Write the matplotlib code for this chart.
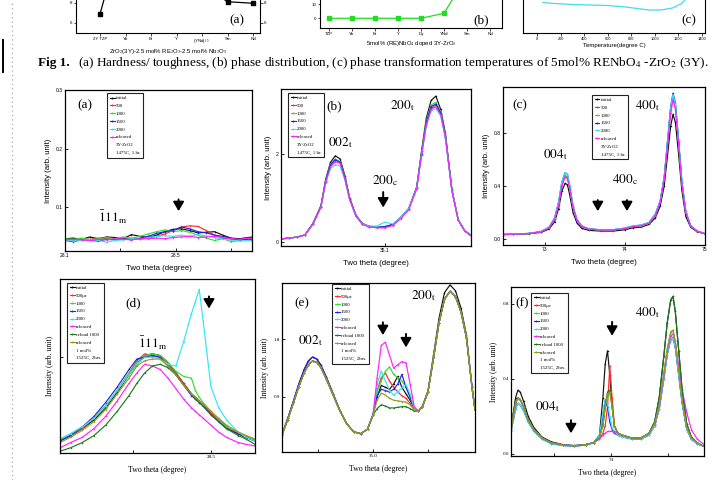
#!/usr/bin/env python3
"""Recreate a scanned page: strip of Fig 1 (hardness / phases / temperature) and six XRD panels."""
import matplotlib
matplotlib.use("Agg")
import matplotlib.pyplot as plt
from matplotlib.lines import Line2D

W, H = 712, 480
SANS = "Liberation Sans"
SERIF = "Liberation Serif"
plt.rcParams["font.family"] = SANS
plt.rcParams["mathtext.fontset"] = "stix"

# ---------------- top strip (Fig 1) ----------------
TOP_A_CATS = ["2Y TZP", "Yb", "Er", "Y", "(YNd)$_{1.5}$", "Sm", "Nd"]
TOP_A_VALUES = [6.9, 16.0, 14.0, 13.0, 9.8, 8.13, 7.97]
TOP_B_CATS = ["TZP", "Yb", "Er", "Y", "Dy", "YNd", "Sm", "Nd"]
TOP_B_VALUES = [0, 0, 0, 0, 0, 3.5, 30, 55]
TOP_C_TEMP = [50, 150, 300, 450, 600, 750, 850, 950, 1050, 1150, 1220, 1280]
TOP_C_VALUES = [30.5, 29.5, 28.5, 28.0, 27.5, 26.0, 24.5, 23.0, 23.0, 25.0, 29.0, 36.0]
TOP_C_TICKS = [0, 200, 400, 600, 800, 1000, 1200, 1400]

# ---------------- legends ----------------
LABELS_3Y = ["initial", "500", "1000", "1500", "2000", "released"]
NOTES_3Y = ["3Y-ZrO2", "1475C, 1 hr."]
COLORS_3Y = ["#111111", "#ff2a2a", "#33dd33", "#2222ee", "#33e6f2", "#ff22ff"]
LABELS_1M = ["initial", "500\u03bc\u03b5", "1000", "1500", "2000", "released", "reload 1000", "released"]
NOTES_1M = ["1 mol%", "1525C, 2hrs."]
COLORS_1M = COLORS_3Y + ["#1f7a1f", "#9a9a22"]

# ---------------- (a) -111m, 3Y ----------------
A_X = [28.10, 28.13, 28.16, 28.19, 28.22, 28.25, 28.28, 28.31, 28.34, 28.37, 28.40, 28.43,
       28.46, 28.49, 28.52, 28.55, 28.58, 28.61, 28.64, 28.67, 28.70, 28.73, 28.76, 28.78]
A_INITIAL = [0.046, 0.047, 0.045, 0.049, 0.046, 0.049, 0.048, 0.046, 0.053, 0.050, 0.048, 0.052,
             0.058, 0.062, 0.063, 0.060, 0.056, 0.057, 0.058, 0.052, 0.047, 0.046, 0.048, 0.049]
A_500 = [0.045, 0.044, 0.046, 0.045, 0.047, 0.046, 0.045, 0.047, 0.046, 0.045, 0.047, 0.050,
         0.054, 0.060, 0.066, 0.068, 0.067, 0.060, 0.052, 0.047, 0.045, 0.044, 0.046, 0.045]
A_1000 = [0.046, 0.045, 0.047, 0.044, 0.046, 0.048, 0.046, 0.049, 0.047, 0.050, 0.054, 0.058,
          0.061, 0.058, 0.060, 0.057, 0.052, 0.047, 0.043, 0.046, 0.041, 0.043, 0.045, 0.044]
A_1500 = [0.043, 0.041, 0.044, 0.043, 0.042, 0.045, 0.044, 0.046, 0.044, 0.047, 0.050, 0.055,
          0.058, 0.060, 0.066, 0.063, 0.058, 0.056, 0.052, 0.050, 0.046, 0.044, 0.045, 0.043]
A_2000 = [0.044, 0.042, 0.043, 0.045, 0.043, 0.040, 0.043, 0.044, 0.046, 0.045, 0.048, 0.050,
          0.051, 0.050, 0.052, 0.050, 0.053, 0.051, 0.048, 0.045, 0.044, 0.042, 0.043, 0.042]
A_REL = [0.044, 0.045, 0.044, 0.043, 0.045, 0.044, 0.046, 0.045, 0.044, 0.046, 0.046, 0.047,
         0.046, 0.048, 0.049, 0.050, 0.048, 0.049, 0.050, 0.048, 0.046, 0.045, 0.047, 0.046]

# ---------------- (b) 002t / 200c / 200t, 3Y ----------------
B_X = [34.45, 34.50, 34.55, 34.60, 34.65, 34.70, 34.73, 34.76, 34.79, 34.82, 34.85, 34.88, 34.92,
       34.96, 35.00, 35.05, 35.10, 35.15, 35.20, 35.25, 35.30, 35.33, 35.36, 35.39, 35.42, 35.45,
       35.48, 35.52, 35.56, 35.60, 35.64]
B_INITIAL = [0.07, 0.09, 0.11, 0.16, 0.42, 0.82, 1.42, 1.80, 1.95, 1.88, 1.50, 1.00, 0.60, 0.42, 0.36,
             0.33, 0.34, 0.39, 0.55, 0.75, 1.25, 2.05, 2.80, 3.20, 3.30, 3.00, 2.45, 1.20, 0.50, 0.26, 0.15]
B_500 = [0.07, 0.09, 0.11, 0.16, 0.41, 0.80, 1.38, 1.74, 1.86, 1.80, 1.45, 0.97, 0.59, 0.41, 0.35,
         0.33, 0.34, 0.39, 0.55, 0.75, 1.22, 1.98, 2.68, 3.02, 3.10, 2.90, 2.38, 1.18, 0.50, 0.26, 0.15]
B_1000 = [0.07, 0.09, 0.11, 0.16, 0.41, 0.80, 1.40, 1.76, 1.88, 1.82, 1.46, 0.98, 0.59, 0.41, 0.35,
          0.33, 0.34, 0.39, 0.55, 0.75, 1.24, 2.02, 2.74, 3.10, 3.16, 2.95, 2.40, 1.18, 0.50, 0.26, 0.15]
B_1500 = [0.07, 0.09, 0.11, 0.16, 0.41, 0.80, 1.39, 1.75, 1.86, 1.80, 1.45, 0.97, 0.59, 0.41, 0.35,
          0.33, 0.35, 0.40, 0.56, 0.76, 1.23, 2.00, 2.70, 3.06, 3.12, 2.92, 2.38, 1.18, 0.50, 0.26, 0.15]
B_2000 = [0.07, 0.09, 0.11, 0.16, 0.40, 0.78, 1.34, 1.66, 1.75, 1.72, 1.40, 0.95, 0.58, 0.41, 0.36,
          0.36, 0.45, 0.41, 0.56, 0.76, 1.22, 1.96, 2.62, 2.96, 3.02, 2.85, 2.35, 1.17, 0.50, 0.26, 0.15]
B_REL = [0.07, 0.09, 0.11, 0.16, 0.40, 0.79, 1.36, 1.70, 1.82, 1.78, 1.43, 0.96, 0.58, 0.40, 0.34,
         0.32, 0.32, 0.37, 0.53, 0.73, 1.20, 1.96, 2.64, 3.00, 3.06, 2.88, 2.36, 1.16, 0.49, 0.25, 0.14]

# ---------------- (c) 004t / 400c / 400t, 3Y ----------------
C_X = [72.48, 72.60, 72.80, 72.95, 73.05, 73.12, 73.17, 73.21, 73.25, 73.28, 73.31, 73.35, 73.40,
       73.46, 73.55, 73.70, 73.85, 74.00, 74.10, 74.20, 74.30, 74.38, 74.44, 74.49, 74.53, 74.57,
       74.60, 74.63, 74.67, 74.71, 74.76, 74.82, 74.90, 75.00]
C_INITIAL = [.033, .035, .040, .050, .075, .13, .23, .36, .42, .41, .33, .20, .12, .08, .065, .06, .06,
             .07, .085, .09, .11, .16, .25, .40, .62, .85, .94, .88, .64, .37, .17, .09, .055, .04]
C_500 = [.035, .037, .042, .055, .085, .15, .26, .40, .47, .46, .38, .24, .14, .095, .075, .068, .068,
         .08, .095, .10, .12, .18, .28, .46, .71, .97, 1.07, 1.00, .73, .43, .20, .10, .06, .04]
C_1000 = [.035, .037, .042, .055, .085, .15, .27, .41, .48, .47, .38, .24, .14, .095, .075, .068, .068,
          .08, .095, .10, .12, .18, .28, .46, .71, .97, 1.07, 1.00, .73, .43, .20, .10, .06, .04]
C_1500 = [.035, .037, .042, .056, .088, .16, .28, .43, .50, .49, .40, .25, .145, .097, .077, .07, .07,
          .082, .098, .105, .125, .19, .29, .47, .73, 1.00, 1.10, 1.03, .75, .44, .21, .10, .06, .04]
C_2000 = [.036, .038, .043, .057, .09, .16, .28, .43, .50, .49, .40, .25, .145, .097, .077, .07, .07,
          .085, .10, .105, .125, .19, .29, .47, .73, .99, 1.09, 1.02, .75, .44, .21, .10, .06, .04]
C_REL = [.035, .037, .042, .055, .085, .15, .26, .40, .47, .46, .38, .24, .14, .095, .075, .068, .068,
         .08, .095, .10, .12, .18, .28, .45, .70, .95, 1.05, .98, .72, .42, .20, .10, .06, .04]

# ---------------- (d) -111m, 1 mol% ----------------
D_X = [28.113, 28.14, 28.17, 28.20, 28.23, 28.26, 28.29, 28.31, 28.33, 28.35, 28.37, 28.39,
       28.41, 28.43, 28.45, 28.46, 28.47, 28.48, 28.50, 28.52, 28.54, 28.57, 28.59, 28.613]
D_INITIAL = [0.07, 0.10, 0.14, 0.19, 0.26, 0.35, 0.45, 0.51, 0.56, 0.57, 0.56, 0.52,
             0.46, 0.40, 0.34, 0.32, 0.30, 0.28, 0.23, 0.19, 0.15, 0.11, 0.09, 0.07]
D_500 = [0.07, 0.10, 0.14, 0.20, 0.27, 0.36, 0.46, 0.53, 0.57, 0.56, 0.55, 0.51,
         0.46, 0.40, 0.34, 0.32, 0.30, 0.28, 0.23, 0.19, 0.15, 0.11, 0.09, 0.07]
D_1000 = [0.08, 0.11, 0.15, 0.20, 0.27, 0.36, 0.46, 0.52, 0.56, 0.57, 0.56, 0.52,
          0.47, 0.44, 0.43, 0.36, 0.32, 0.29, 0.24, 0.19, 0.15, 0.12, 0.10, 0.08]
D_1500 = [0.07, 0.10, 0.15, 0.21, 0.29, 0.38, 0.48, 0.54, 0.55, 0.56, 0.55, 0.50,
          0.45, 0.39, 0.33, 0.31, 0.29, 0.27, 0.22, 0.18, 0.14, 0.11, 0.09, 0.07]
D_2000 = [0.08, 0.11, 0.15, 0.20, 0.27, 0.36, 0.45, 0.51, 0.55, 0.55, 0.54, 0.51,
          0.50, 0.64, 0.80, 0.87, 0.94, 0.76, 0.38, 0.26, 0.19, 0.12, 0.09, 0.07]
D_REL = [0.03, 0.06, 0.09, 0.14, 0.21, 0.30, 0.40, 0.46, 0.51, 0.50, 0.48, 0.43,
         0.37, 0.31, 0.26, 0.24, 0.22, 0.20, 0.16, 0.12, 0.09, 0.06, 0.05, 0.04]
D_RELOAD = [0.01, 0.03, 0.06, 0.10, 0.16, 0.24, 0.33, 0.40, 0.46, 0.50, 0.51, 0.49,
            0.45, 0.39, 0.34, 0.31, 0.29, 0.27, 0.22, 0.18, 0.14, 0.10, 0.08, 0.05]
D_REL2 = [0.06, 0.09, 0.13, 0.18, 0.25, 0.34, 0.43, 0.50, 0.53, 0.54, 0.54, 0.50,
          0.45, 0.39, 0.34, 0.32, 0.30, 0.28, 0.24, 0.20, 0.16, 0.12, 0.10, 0.08]

# ---------------- (e) 002t / 200t, 1 mol% ----------------
E_X = [34.669, 34.69, 34.71, 34.73, 34.75, 34.765, 34.78, 34.795, 34.81, 34.83, 34.855, 34.88,
       34.905, 34.93, 34.955, 34.98, 35.0,
       35.015, 35.03, 35.045, 35.06, 35.075, 35.09, 35.105, 35.12, 35.135, 35.15,
       35.165, 35.18, 35.2, 35.22, 35.24, 35.26, 35.28, 35.3, 35.32, 35.34, 35.36, 35.371]
E_LEFT = [0.31, 0.55, 0.80, 1.06, 1.28, 1.40, 1.46, 1.44, 1.36, 1.18, 0.93, 0.68, 0.48, 0.36, 0.33, 0.40, 0.62]
E_LEFT_HI = [0.32, 0.57, 0.83, 1.10, 1.33, 1.46, 1.52, 1.49, 1.40, 1.21, 0.95, 0.69, 0.48, 0.36, 0.33, 0.40, 0.63]
E_RIGHT = [0.68, 0.75, 0.98, 1.50, 2.05, 2.42, 2.54, 2.46, 2.22, 1.82, 1.05, 0.70]
E_RIGHT_HI = [0.68, 0.76, 1.00, 1.55, 2.12, 2.52, 2.64, 2.55, 2.28, 1.86, 1.07, 0.71]
E_MID_INITIAL = [0.90, 1.08, 1.05, 1.02, 1.10, 1.22, 1.05, 0.95, 0.85, 0.72]
E_MID_500 = [1.00, 1.20, 1.27, 1.15, 1.05, 0.98, 0.92, 0.88, 0.80, 0.70]
E_MID_1000 = [0.98, 1.15, 1.30, 1.37, 1.25, 1.20, 1.15, 1.05, 0.90, 0.72]
E_MID_1500 = [0.92, 1.02, 1.00, 0.98, 1.02, 1.10, 1.25, 1.05, 0.90, 0.72]
E_MID_2000 = [1.10, 1.30, 1.15, 1.00, 0.93, 0.98, 1.05, 1.09, 0.95, 0.72]
E_MID_REL = [1.20, 1.70, 1.75, 1.55, 1.35, 1.40, 1.45, 1.43, 1.10, 0.75]
E_MID_RELOAD = [0.72, 0.78, 0.76, 0.73, 0.73, 0.74, 0.75, 0.75, 0.72, 0.68]
E_MID_REL2 = [0.85, 0.96, 0.93, 0.88, 0.85, 0.84, 0.83, 0.82, 0.78, 0.70]

# ---------------- (f) 004t / 400t, 1 mol% ----------------
F_X = [73.13, 73.15, 73.17, 73.19, 73.21, 73.24, 73.28, 73.33, 73.40, 73.48, 73.58, 73.68, 73.78, 73.85,
       73.90, 73.93, 73.95, 73.97, 73.99, 74.01, 74.03, 74.06, 74.10,
       74.18, 74.26, 74.33, 74.38, 74.42, 74.46, 74.49, 74.52, 74.54, 74.56, 74.59, 74.62, 74.66,
       74.70, 74.75, 74.81]
F_LEFT_HI = [0.14, 0.22, 0.30, 0.34, 0.33, 0.28, 0.20, 0.14, 0.09, 0.065, 0.05, 0.045, 0.05, 0.06]
F_LEFT_MID = [0.13, 0.20, 0.27, 0.30, 0.29, 0.25, 0.18, 0.13, 0.085, 0.06, 0.048, 0.043, 0.05, 0.06]
F_LEFT_LO = [0.12, 0.18, 0.24, 0.27, 0.26, 0.23, 0.17, 0.12, 0.08, 0.055, 0.045, 0.04, 0.048, 0.058]
F_MID_INITIAL = [0.10, 0.30, 0.48, 0.55, 0.42, 0.25, 0.15, 0.11, 0.10]
F_MID_500 = [0.08, 0.11, 0.15, 0.25, 0.47, 0.30, 0.15, 0.11, 0.10]
F_MID_1000 = [0.09, 0.15, 0.24, 0.31, 0.33, 0.25, 0.15, 0.11, 0.10]
F_MID_1500 = [0.10, 0.20, 0.29, 0.25, 0.17, 0.13, 0.11, 0.10, 0.09]
F_MID_2000 = [0.10, 0.22, 0.29, 0.27, 0.20, 0.14, 0.12, 0.10, 0.09]
F_MID_REL = [0.08, 0.10, 0.11, 0.12, 0.12, 0.12, 0.12, 0.11, 0.10]
F_MID_RELOAD = [0.09, 0.16, 0.26, 0.33, 0.34, 0.26, 0.15, 0.11, 0.10]
F_MID_REL2 = [0.09, 0.15, 0.25, 0.32, 0.33, 0.25, 0.15, 0.11, 0.10]
F_RIGHT_HI = [0.085, 0.085, 0.11, 0.17, 0.30, 0.52, 0.70, 0.82, 0.84, 0.76, 0.55, 0.34, 0.16, 0.09, 0.06, 0.04]
F_RIGHT_MID = [0.085, 0.085, 0.11, 0.16, 0.26, 0.43, 0.56, 0.65, 0.66, 0.60, 0.44, 0.28, 0.14, 0.085, 0.06, 0.04]
F_RIGHT_LO = [0.08, 0.08, 0.10, 0.15, 0.24, 0.40, 0.53, 0.61, 0.62, 0.57, 0.42, 0.27, 0.13, 0.08, 0.055, 0.04]
F_RIGHT_REL = [0.085, 0.085, 0.11, 0.16, 0.25, 0.42, 0.55, 0.63, 0.64, 0.60, 0.47, 0.34, 0.22, 0.13, 0.08, 0.05]


def px_axes(fig, x0, y0, x1, y1):
    """Axes placed by pixel box (left, top, right, bottom) on the 712x480 page."""
    return fig.add_axes([x0 / W, 1 - y1 / H, (x1 - x0) / W, (y1 - y0) / H])


def add_legend(ax, labels, colors, notes, x0, top):
    handles = [Line2D([], [], color=c, lw=0.8, marker="o", ms=1.4, mew=0) for c in colors]
    handles += [Line2D([], [], color="none") for _ in notes]
    leg = ax.legend(handles, list(labels) + list(notes), loc="upper left", bbox_to_anchor=(x0, top),
                    prop={"family": SERIF, "size": 3.5}, frameon=True, fancybox=False,
                    edgecolor="#222222", framealpha=1, handlelength=1.0, handletextpad=0.25,
                    labelspacing=0.7, borderpad=0.55, borderaxespad=0)
    leg.get_frame().set_linewidth(0.8)


def arrow(ax, x, y_top, y_bot):
    ax.annotate("", xy=(x, y_bot), xytext=(x, y_top),
                arrowprops=dict(arrowstyle="-|>,head_width=0.32,head_length=0.55",
                                color="black", lw=1.4, shrinkA=0, shrinkB=0))


def label(ax, x, y, text, size=9.5):
    ax.text(x, y, text, ha="center", va="center", fontsize=size, family=SERIF)


def xrd_axes(fig, box, x, series, colors, xlim, ylim, serif):
    ax = px_axes(fig, *box)
    for ys, c in zip(series, colors):
        ax.plot(x, ys, color=c, lw=0.85, marker="o", ms=1.1, mew=0)
    ax.set_xlim(*xlim)
    ax.set_ylim(*ylim)
    fam = SERIF if serif else SANS
    ax.tick_params(direction="in", length=2.2, width=0.6, labelsize=3.6, pad=1.5)
    for t in ax.get_xticklabels() + ax.get_yticklabels():
        t.set_family(fam)
    ax.set_xlabel("Two theta (degree)", fontsize=5.6, family=fam, labelpad=5)
    ax.set_ylabel("Intensity (arb. unit)", fontsize=5.6, family=fam, labelpad=3)
    for sp in ax.spines.values():
        sp.set_linewidth(0.9)
    return ax


def top_strip(fig):
    # (a) hardness / toughness
    ax = px_axes(fig, 76, -40, 260, 33)
    ax.plot(range(len(TOP_A_CATS)), TOP_A_VALUES, color="black", lw=0.9, marker="s", ms=2.6)
    ax.set_xlim(-0.94, 6.27)
    ax.set_ylim(5.0, 12.3)
    ax.set_xticks(range(len(TOP_A_CATS)))
    ax.set_xticklabels(TOP_A_CATS, fontsize=2.8)
    ax.set_yticks([6, 8])
    ax.tick_params(labelsize=3.2, length=1.8, width=0.5, pad=1, right=True, labelright=True)
    ax.set_xlabel("ZrO$_2$(3Y)-2.5 mol% RE$_2$O$_3$-2.5 mol% Nb$_2$O$_5$", fontsize=4.3, labelpad=1.5)
    label(ax, 5.38, 6.3, "(a)", 9.5)

    # (b) phase distribution
    ax = px_axes(fig, 320, -40, 502, 28)
    ax.plot(range(len(TOP_B_CATS)), TOP_B_VALUES, color="#22dd22", lw=0.9, marker="s", ms=2.4)
    ax.set_xlim(-0.39, 7.52)
    ax.set_ylim(-6.8, 40.8)
    ax.set_xticks(range(len(TOP_B_CATS)))
    ax.set_xticklabels(TOP_B_CATS, fontsize=2.8)
    ax.set_yticks([0, 10])
    ax.tick_params(labelsize=3.2, length=1.8, width=0.5, pad=1)
    ax.set_xlabel("5mol% (RE)NbO$_4$ doped 3Y-ZrO$_2$", fontsize=4.3, labelpad=2.5)
    label(ax, 6.63, -1.2, "(b)", 9.5)

    # (c) transformation temperature
    ax = px_axes(fig, 523, -40, 705, 33)
    ax.plot(TOP_C_TEMP, TOP_C_VALUES, color="#40dcee", lw=0.9)
    ax.set_xlim(-119, 1425)
    ax.set_ylim(0, 73)
    ax.set_xticks(TOP_C_TICKS)
    ax.set_xticklabels([str(t) for t in TOP_C_TICKS], fontsize=2.8)
    ax.set_yticks([])
    ax.tick_params(length=1.8, width=0.5, pad=1)
    ax.set_xlabel("Temperature(degree C)", fontsize=4.3, labelpad=1.5)
    label(ax, 1290, 13, "(c)", 9.5)


def main():
    fig = plt.figure(figsize=(W / 100, H / 100), dpi=100)
    fig.patch.set_facecolor("white")

    # page margin marks
    fig.add_artist(Line2D([12 / W, 12 / W], [0, 1], color="#9a9a9a", lw=0.8, ls=(0, (1, 3))))
    fig.add_artist(Line2D([3 / W, 3 / W], [1 - 40 / H, 1 - 72 / H], color="black", lw=1.4))

    top_strip(fig)

    fig.text(38 / W, 1 - 63 / H, "Fig 1.", fontsize=9.5, family=SERIF, weight="bold", va="center")
    fig.text(78 / W, 1 - 63 / H,
             "(a) Hardness/ toughness, (b) phase distribution, (c) phase transformation "
             "temperatures of 5mol% RENbO$_4$ -ZrO$_2$ (3Y).",
             fontsize=9.5, family=SERIF, va="center")

    # (a)
    ax = xrd_axes(fig, (65, 90, 252, 251), A_X, [A_INITIAL, A_500, A_1000, A_1500, A_2000, A_REL],
                  COLORS_3Y, (28.1, 28.775), (0.025, 0.3), False)
    ax.set_xticks([28.1, 28.3, 28.5, 28.7])
    ax.set_xticklabels(["28.1", "", "28.5", ""])
    ax.set_yticks([0.1, 0.2, 0.3])
    add_legend(ax, LABELS_3Y, COLORS_3Y, NOTES_3Y, 0.225, 0.98)
    label(ax, 28.172, 0.274, "(a)")
    label(ax, 28.27, 0.083, r"$\bar{1}11_\mathrm{m}$")
    arrow(ax, 28.51, 0.113, 0.093)

    # (b)
    ax = xrd_axes(fig, (281, 89, 471, 246), B_X, [B_INITIAL, B_500, B_1000, B_1500, B_2000, B_REL],
                  COLORS_3Y, (34.45, 35.64), (-0.09, 3.46), False)
    ax.set_xticks([35.1])
    ax.set_xticklabels(["35.1"])
    ax.set_yticks([0, 2])
    add_legend(ax, LABELS_3Y, COLORS_3Y, NOTES_3Y, 0.037, 0.975)
    label(ax, 34.78, 3.08, "(b)")
    label(ax, 34.82, 2.25, r"$002_\mathrm{t}$")
    label(ax, 35.10, 1.39, r"$200_\mathrm{c}$")
    label(ax, 35.21, 3.08, r"$200_\mathrm{t}$")
    arrow(ax, 35.09, 1.13, 0.78)

    # (c)
    ax = xrd_axes(fig, (503, 87, 705, 245), C_X, [C_INITIAL, C_500, C_1000, C_1500, C_2000, C_REL],
                  COLORS_3Y, (72.475, 75.0), (-0.045, 1.147), False)
    ax.set_xticks([73, 74, 75])
    ax.set_yticks([0.0, 0.4, 0.8])
    ax.set_yticklabels(["0.0", "0.4", "0.8"])
    add_legend(ax, LABELS_3Y, COLORS_3Y, NOTES_3Y, 0.44, 0.95)
    label(ax, 72.69, 1.01, "(c)")
    label(ax, 73.125, 0.634, r"$004_\mathrm{t}$")
    label(ax, 74.0, 0.445, r"$400_\mathrm{c}$")
    label(ax, 74.275, 1.01, r"$400_\mathrm{t}$")
    arrow(ax, 73.66, 0.294, 0.21)
    arrow(ax, 74.025, 0.294, 0.21)

    # (d)
    ax = xrd_axes(fig, (60, 279, 255, 453), D_X,
                  [D_INITIAL, D_500, D_1000, D_1500, D_2000, D_REL, D_RELOAD, D_REL2],
                  COLORS_1M, (28.113, 28.613), (0.0, 1.0), True)
    ax.set_xticks([28.3, 28.5])
    ax.set_xticklabels(["", "28.5"])
    ax.set_yticks([0.55])
    ax.set_yticklabels([""])
    add_legend(ax, LABELS_1M, COLORS_1M, NOTES_1M, 0.036, 0.977)
    label(ax, 28.30, 0.862, "(d)")
    label(ax, 28.351, 0.632, r"$\bar{1}11_\mathrm{m}$")
    arrow(ax, 28.495, 0.90, 0.83)

    # (e)
    e_series = [E_LEFT_HI + E_MID_INITIAL + E_RIGHT_HI, E_LEFT + E_MID_500 + E_RIGHT,
                E_LEFT + E_MID_1000 + E_RIGHT, E_LEFT_HI + E_MID_1500 + E_RIGHT,
                E_LEFT + E_MID_2000 + E_RIGHT, E_LEFT + E_MID_REL + E_RIGHT,
                E_LEFT + E_MID_RELOAD + E_RIGHT, E_LEFT + E_MID_REL2 + E_RIGHT]
    ax = xrd_axes(fig, (282, 283, 475, 452), E_X, e_series, COLORS_1M,
                  (34.669, 35.371), (0.046, 2.67), True)
    ax.set_xticks([34.8, 35.0, 35.2])
    ax.set_xticklabels(["", "35.0", ""])
    ax.set_yticks([0.9, 1.8])
    add_legend(ax, LABELS_1M, COLORS_1M, NOTES_1M, 0.26, 0.995)
    label(ax, 34.742, 2.36, "(e)")
    label(ax, 34.771, 1.78, r"$002_\mathrm{t}$")
    label(ax, 35.182, 2.48, r"$200_\mathrm{t}$")
    arrow(ax, 35.036, 2.06, 1.86)
    arrow(ax, 35.12, 1.88, 1.67)

    # (f)
    f_series = [F_LEFT_HI + F_MID_INITIAL + F_RIGHT_HI, F_LEFT_MID + F_MID_500 + F_RIGHT_LO,
                F_LEFT_MID + F_MID_1000 + F_RIGHT_MID, F_LEFT_LO + F_MID_1500 + F_RIGHT_LO,
                F_LEFT_LO + F_MID_2000 + F_RIGHT_LO, F_LEFT_MID + F_MID_REL + F_RIGHT_REL,
                F_LEFT_MID + F_MID_RELOAD + F_RIGHT_HI, F_LEFT_MID + F_MID_REL2 + F_RIGHT_MID]
    ax = xrd_axes(fig, (511, 287, 704, 456), F_X, f_series, COLORS_1M,
                  (73.13, 74.81), (-0.011, 0.89), True)
    ax.set_xticks([73.5, 74.0, 74.5])
    ax.set_xticklabels(["", "74", ""])
    ax.set_yticks([0.0, 0.4, 0.8])
    ax.set_yticklabels(["0.0", "0.4", "0.8"])
    add_legend(ax, LABELS_1M, COLORS_1M, NOTES_1M, 0.104, 0.965)
    label(ax, 73.226, 0.805, "(f)")
    label(ax, 74.313, 0.752, r"$400_\mathrm{t}$")
    label(ax, 73.443, 0.25, r"$004_\mathrm{t}$")
    arrow(ax, 74.01, 0.704, 0.63)
    arrow(ax, 73.652, 0.18, 0.11)

    fig.savefig("out.png", dpi=100)
    plt.close(fig)


if __name__ == "__main__":
    main()
